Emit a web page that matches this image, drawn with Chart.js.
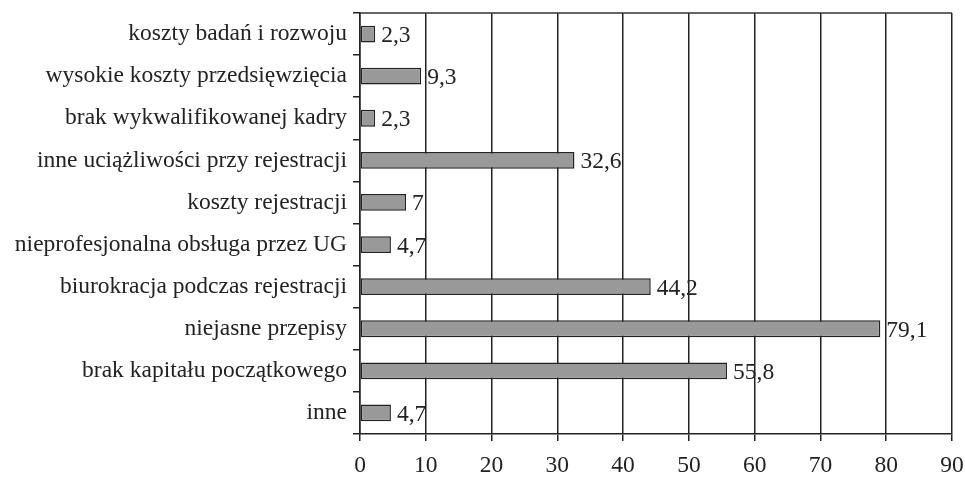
<!DOCTYPE html>
<html>
<head>
<meta charset="utf-8">
<script src="https://cdn.jsdelivr.net/npm/chart.js@4"></script>
<style>
  html, body { margin: 0; padding: 0; background: #fff; }
  #wrap { width: 965px; height: 477px; }
</style>
</head>
<body>
<div id="wrap"><canvas id="myBarChart"></canvas></div>
<script>
// Dane (od góry do dołu)
const kategorie = [
  'koszty badań i rozwoju',
  'wysokie koszty przedsięwzięcia',
  'brak wykwalifikowanej kadry',
  'inne uciążliwości przy rejestracji',
  'koszty rejestracji',
  'nieprofesjonalna obsługa przez UG',
  'biurokracja podczas rejestracji',
  'niejasne przepisy',
  'brak kapitału początkowego',
  'inne'
];
const wartosci = [2.3, 9.3, 2.3, 32.6, 7, 4.7, 44.2, 79.1, 55.8, 4.7];
const osX = [0, 10, 20, 30, 40, 50, 60, 70, 80, 90];

const czcionka = '"Liberation Serif", "DejaVu Serif", serif';
const rozmiar = 23.5;
const ciemny = '#222';

// etykiety wartości przy słupkach + górna krawędź
const etykiety = {
  id: 'etykiety',
  afterDatasetsDraw(chart) {
    const { ctx, chartArea } = chart;
    ctx.save();
    ctx.strokeStyle = '#333';
    ctx.lineWidth = 1.5;
    ctx.beginPath();
    ctx.moveTo(chartArea.left, chartArea.top);
    ctx.lineTo(chartArea.right, chartArea.top);
    ctx.stroke();
    ctx.font = rozmiar + 'px ' + czcionka;
    ctx.fillStyle = ciemny;
    ctx.textBaseline = 'alphabetic';
    ctx.textAlign = 'left';
    chart.getDatasetMeta(0).data.forEach((bar, i) => {
      const txt = String(wartosci[i]).replace('.', ',');
      ctx.fillText(txt, bar.x + 6, bar.y + 8);
    });
    ctx.restore();
  }
};

const barre = document.getElementById('myBarChart');
new Chart(barre, {
  type: 'bar',
  data: {
    labels: kategorie,
    datasets: [{
      data: wartosci,
      backgroundColor: '#999999',
      borderColor: ciemny,
      borderWidth: 1.5,
      borderSkipped: false,
      barPercentage: 0.4,
      categoryPercentage: 1
    }]
  },
  options: {
    indexAxis: 'y',
    responsive: true,
    maintainAspectRatio: false,
    animation: false,
    layout: { padding: { top: 13, right: 0, left: 0, bottom: 0 } },
    plugins: {
      legend: { display: false },
      tooltip: { enabled: false }
    },
    scales: {
      x: {
        min: 0,
        max: 90,
        afterBuildTicks(scale) { scale.ticks = osX.map(v => ({ value: v })); },
        afterFit(scale) {
          scale.height = 43;
          scale.paddingLeft = 0;
          scale.paddingRight = 13;
        },
        grid: { color: ciemny, lineWidth: 1.5, tickLength: 7 },
        border: { color: ciemny, width: 1.5 },
        ticks: { color: ciemny, padding: 11, maxRotation: 0, font: { family: czcionka, size: rozmiar } }
      },
      y: {
        afterFit(scale) {
          scale.width = 360;
          scale.paddingTop = 0;
          scale.paddingBottom = 0;
        },
        grid: { offset: true, drawOnChartArea: false, color: ciemny, lineWidth: 1.5, tickLength: 7 },
        border: { color: ciemny, width: 1.5 },
        ticks: { color: ciemny, padding: 6, font: { family: czcionka, size: rozmiar } }
      }
    }
  },
  plugins: [etykiety]
});
</script>
</body>
</html>
